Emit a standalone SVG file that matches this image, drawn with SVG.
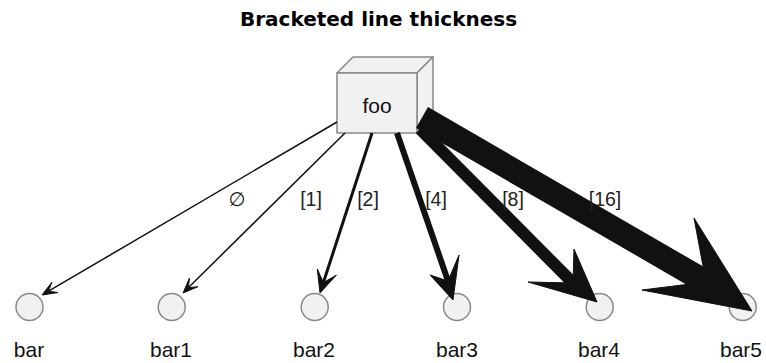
<svg xmlns="http://www.w3.org/2000/svg" width="766" height="363" viewBox="0 0 766 363">
<style>
.title{font-family:"DejaVu Sans",sans-serif;font-weight:bold;font-size:20px;fill:#000;text-anchor:middle}
.lbl{font-family:"Liberation Sans",Arial,sans-serif;font-size:21px;fill:#111;text-anchor:middle}
.elbl{font-family:"Liberation Sans","DejaVu Sans",sans-serif;font-size:19.5px;fill:#222;text-anchor:middle}
.shape{fill:#F1F1F1;stroke:#888;stroke-width:1.5;stroke-linejoin:round}
.edge{stroke:#111;fill:none}
.head{fill:#111;stroke:#111;stroke-width:1;stroke-linejoin:miter}
</style>
<rect width="766" height="363" fill="#fff"/>
<text class="title" x="378.5" y="26">Bracketed line thickness</text>
<g id="foo">
<polygon class="shape" points="337,73 353,57 433,57 417,73"/>
<polygon class="shape" points="417,73 433,57 433,117 417,133"/>
<rect class="shape" x="337" y="73" width="80" height="60"/>
<text class="lbl" x="377" y="113">foo</text>
</g>
<g id="bar">
<circle class="shape" cx="29.5" cy="307" r="13.5"/>
<text class="lbl" x="29" y="357">bar</text>
</g>
<g id="bar1">
<circle class="shape" cx="171.7" cy="307" r="13.5"/>
<text class="lbl" x="171" y="357">bar1</text>
</g>
<g id="bar2">
<circle class="shape" cx="314.7" cy="307" r="13.5"/>
<text class="lbl" x="314" y="357">bar2</text>
</g>
<g id="bar3">
<circle class="shape" cx="457" cy="307" r="13.5"/>
<text class="lbl" x="457" y="357">bar3</text>
</g>
<g id="bar4">
<circle class="shape" cx="599.7" cy="307" r="13.5"/>
<text class="lbl" x="599" y="357">bar4</text>
</g>
<g id="bar5">
<circle class="shape" cx="742.7" cy="307" r="13.5"/>
<text class="lbl" x="741" y="357">bar5</text>
</g>
<g id="connectors">
<line class="edge" x1="337" y1="122" x2="48.5" y2="291.2" stroke-width="1.5"/>
<polygon class="head" points="42,295 57.97,292.59 48.47,291.21 51.91,282.23"/>
<text class="elbl" x="237" y="206">∅</text>
<line class="edge" x1="345" y1="133" x2="188.3" y2="287.7" stroke-width="1.5"/>
<polygon class="head" points="183,293 197.89,286.72 188.33,287.73 189.45,278.18"/>
<text class="elbl" x="311" y="206">[1]</text>
<line class="edge" x1="372" y1="133" x2="323.4" y2="282.5" stroke-width="3"/>
<polygon class="head" points="320,293 336.31,275.17 323.4,282.54 317.29,268.99"/>
<text class="elbl" x="368" y="206">[2]</text>
<line class="edge" x1="397" y1="133" x2="448" y2="281" stroke-width="6"/>
<polygon class="head" points="453,300 459,255 448,281 430,275"/>
<text class="elbl" x="436" y="206">[4]</text>
<line class="edge" x1="420" y1="129" x2="573" y2="283" stroke-width="12"/>
<polygon class="head" points="597,302 574,249 573,283 528,282"/>
<text class="elbl" x="513" y="206">[8]</text>
<line class="edge" x1="422" y1="117.5" x2="706" y2="282" stroke-width="24"/>
<polygon class="head" points="752,311 694,218 706,282 642,290"/>
<text class="elbl" x="605" y="206">[16]</text>
</g>
</svg>
